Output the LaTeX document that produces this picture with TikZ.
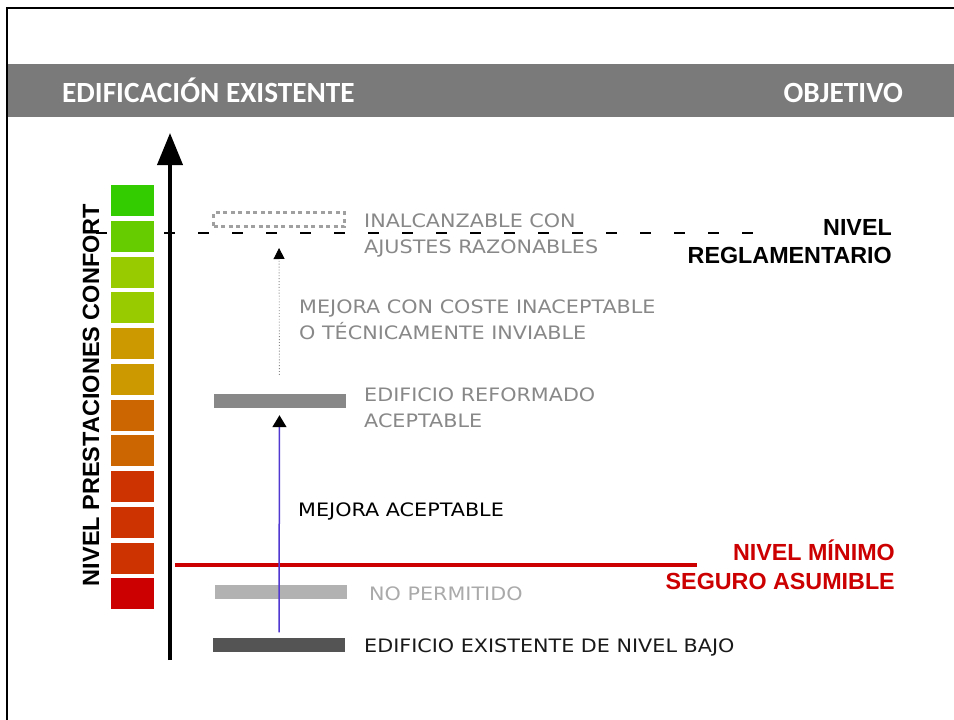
\documentclass[tikz,border=0pt]{standalone}
\usepackage{fontspec}
\setmainfont{DejaVu Sans}
\newfontfamily\lab[FakeStretch=1.12]{DejaVu Sans}
\newfontfamily\arial{Liberation Sans}
\newfontfamily\calib{Carlito}
\usetikzlibrary{arrows.meta}

\definecolor{rojo}{HTML}{CC0000}
\definecolor{azul}{HTML}{5038D0}
\definecolor{cabecera}{HTML}{7A7A7A}
\definecolor{grisT}{HTML}{888888}
\definecolor{grisC}{HTML}{AAAAAA}

\tikzset{
  barra/.style={minimum width=132pt, minimum height=14pt, inner sep=0pt},
  texto/.style={anchor=base west, inner sep=0pt, align=left,
                font=\lab\fontsize{18.5}{26}\selectfont},
  nivel/.style={anchor=base east, inner sep=0pt, align=right,
                font=\arial\bfseries\fontsize{23.3}{28}\selectfont},
  titulo/.style={anchor=base, inner sep=0pt, text=white,
                 font=\calib\bfseries\fontsize{29.3}{30}\selectfont}
}

\begin{document}
\begin{tikzpicture}[x=1pt,y=-1pt]
  \useasboundingbox (0,0) rectangle (954,720);

  % marco y cabecera
  \draw[line width=2.5pt] (7,720) -- (7,8) -- (954,8);
  \fill[cabecera] (8,64) rectangle (954,117);
  \node[titulo, anchor=base west] (hIzq) at (62,102) {EDIFICACIÓN EXISTENTE};
  \node[titulo, anchor=base east] (hDer) at (903,102) {OBJETIVO};

  % eje vertical
  \coordinate (ejeA) at (170,660);
  \coordinate (ejeB) at (170,133);
  \draw[line width=4pt, -{Triangle[width=25pt,length=32pt]}] (ejeA) -- (ejeB);

  % nivel reglamentario
  \coordinate (reglA) at (96,233);
  \coordinate (reglB) at (754,233);
  \draw[line width=1.5pt, dash pattern=on 11pt off 23pt] (reglA) -- (reglB);

  % escala de colores
  \foreach \c [count=\i from 0] in {33CC00,66CC00,99CC00,99CC00,CC9900,CC9900,
                                    CC6600,CC6600,CC3300,CC3300,CC3300,CC0000}
  {
    \definecolor{caja}{HTML}{\c}
    \fill[caja] (111,185+35.75*\i) rectangle ++(43,31);
  }
  \node[rotate=90, inner sep=0pt, font=\arial\bfseries\fontsize{23.5}{23.5}\selectfont]
    (eje) at (91,395) {NIVEL PRESTACIONES CONFORT};

  % nivel minimo
  \coordinate (minA) at (175,565);
  \coordinate (minB) at (697,565);
  \draw[rojo, line width=3.5pt] (minA) -- (minB);

  % barras
  \node[barra, draw=grisT!80, dash pattern=on 4pt off 3.5pt,
        line width=3pt, minimum width=131pt, minimum height=14pt] (tope) at (279,219.5) {};
  \node[barra, fill=grisT] (reformado) at (279.5,401) {};
  \node[barra, fill=black!30] (noperm) at (281,592) {};
  \node[barra, fill=black!67] (bajo) at (279,644.5) {};

  % flechas
  \draw[azul, line width=1.5pt, shorten <=5pt, shorten >=7pt,
        -{Triangle[width=14pt,length=12pt,color=black]}] (bajo.north) -- (reformado.south);
  \draw[grisT, line width=0.9pt, dotted, shorten <=19pt, shorten >=20pt,
        -{Triangle[width=11pt,length=11pt,color=black]}] (reformado.north) -- (tope.south);

  % textos (base = ultima linea)
  \node[texto, text=grisT] (tTope) at (364,253) {INALCANZABLE CON\\AJUSTES RAZONABLES};
  \node[texto, text=grisT] (tCoste) at (299,339) {MEJORA CON COSTE INACEPTABLE\\O TÉCNICAMENTE INVIABLE};
  \node[texto, text=grisT] (tRef) at (364,427) {EDIFICIO REFORMADO\\ACEPTABLE};
  \node[texto, text=black] (tMejora) at (298,516) {MEJORA ACEPTABLE};
  \node[texto, text=grisC] (tNoPerm) at (369,600) {NO PERMITIDO};
  \node[texto, text=black!90] (tBajo) at (364,652) {EDIFICIO EXISTENTE DE NIVEL BAJO};

  \node[nivel] (tRegl) at (892,263) {NIVEL\\REGLAMENTARIO};
  \node[nivel, text=rojo, font=\arial\bfseries\fontsize{23.3}{29}\selectfont]
    (tMin) at (895,589) {NIVEL MÍNIMO\\SEGURO ASUMIBLE};
\end{tikzpicture}
\end{document}
